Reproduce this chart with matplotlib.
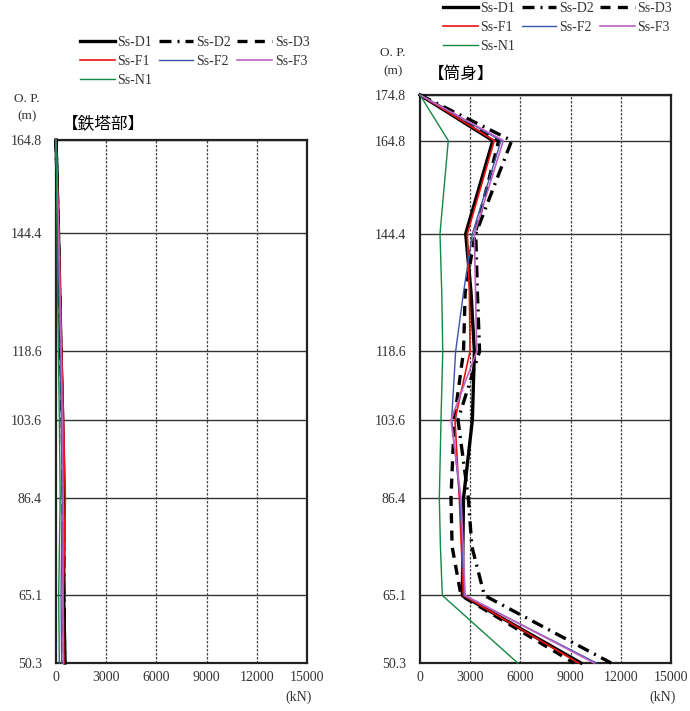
import matplotlib
matplotlib.use("Agg")
import matplotlib.pyplot as plt

plt.rcParams['font.family'] = ['Liberation Serif', 'Noto Sans CJK JP', 'DejaVu Sans']

# ---------------- data ----------------
series_names = ["Ss-D1", "Ss-D2", "Ss-D3", "Ss-F1", "Ss-F2", "Ss-F3", "Ss-N1"]

# Tower part (鉄塔部)
elev_tower = [164.8, 144.4, 118.6, 103.6, 86.4, 65.1, 50.3]
tower_D1 = [0, 150, 300, 400, 480, 460, 540]
tower_D2 = [0, 140, 290, 380, 440, 470, 520]
tower_D3 = [0, 130, 280, 370, 430, 460, 500]
tower_F1 = [0, 170, 340, 450, 560, 430, 470]
tower_F2 = [0, 110, 260, 320, 370, 300, 340]
tower_F3 = [0, 160, 310, 380, 430, 410, 440]
tower_N1 = [0, 60, 140, 200, 250, 160, 200]

# Shaft (筒身)
elev_shaft = [174.8, 164.8, 144.4, 131.5, 118.6, 103.6, 86.4, 75.8, 65.1, 50.3]
shaft_D1 = [0, 4350, 2730, 3050, 3250, 3130, 2600, 2560, 2530, 9620]
shaft_D2 = [0, 5480, 3330, 3430, 3560, 2270, 2890, 3100, 3850, 11420]
shaft_D3 = [0, 4700, 3300, 2700, 2600, 2050, 1850, 1920, 2450, 9200]
shaft_F1 = [0, 4440, 2830, 2950, 2990, 2090, 2350, 2470, 2590, 9480]
shaft_F2 = [0, 4840, 3130, 2600, 2130, 1890, 2390, 2520, 2650, 10550]
shaft_F3 = [0, 4980, 3250, 3320, 3390, 1850, 2450, 2580, 2700, 10400]
shaft_N1 = [0, 1690, 1195, 1300, 1360, 1255, 1155, 1220, 1335, 5840]

ticks_tower = [164.8, 144.4, 118.6, 103.6, 86.4, 65.1, 50.3]
ticks_shaft = [174.8, 164.8, 144.4, 118.6, 103.6, 86.4, 65.1, 50.3]
x_ticks = [0, 3000, 6000, 9000, 12000, 15000]

# ---------------- styles ----------------
styles = {
    "Ss-D1": dict(color="black", lw=2.4, ls="-"),
    "Ss-D2": dict(color="black", lw=2.4, ls=(0, (3.6, 1.8, 0.6, 1.8))),
    "Ss-D3": dict(color="black", lw=2.4, ls=(0, (3.0, 2.2))),
    "Ss-F1": dict(color="#ee1111", lw=1.2, ls="-"),
    "Ss-F2": dict(color="#3a55a8", lw=1.0, ls="-"),
    "Ss-F3": dict(color="#c060c0", lw=1.2, ls="-"),
    "Ss-N1": dict(color="#118844", lw=1.0, ls="-"),
}

W, H = 690, 711
fig = plt.figure(figsize=(W / 100, H / 100), dpi=100)


def px_axes(x0, x1, y0, y1):
    return fig.add_axes([x0 / W, 1 - y1 / H, (x1 - x0) / W, (y1 - y0) / H])


ax1 = px_axes(56, 307, 140, 663)
ax2 = px_axes(420, 671, 95, 663)

tower = [tower_D1, tower_D2, tower_D3, tower_F1, tower_F2, tower_F3, tower_N1]
shaft = [shaft_D1, shaft_D2, shaft_D3, shaft_F1, shaft_F2, shaft_F3, shaft_N1]


def setup(ax, yticks, ytop):
    ax.set_xlim(0, 15000)
    ax.set_ylim(50.3, ytop)
    ax.set_xticks(x_ticks)
    ax.set_xticklabels([str(v) for v in x_ticks])
    ax.set_yticks(yticks)
    ax.set_yticklabels([f"{v:.1f}" for v in yticks])
    ax.tick_params(length=0, labelsize=10, colors="#333333")
    ax.tick_params(axis="y", pad=10)
    ax.tick_params(axis="x", pad=6)
    for v in yticks:
        ax.axhline(v, color="#333333", lw=1.0, zorder=1)
    for v in x_ticks[1:-1]:
        ax.axvline(v, color="#444444", lw=0.9, ls=(0, (2, 1.2)), zorder=1)
    for s in ax.spines.values():
        s.set_color("#222222")
        s.set_linewidth(1.6)
    ax.annotate("(kN)", xy=(1, 0), xycoords="axes fraction", xytext=(-6, -25),
                textcoords="offset points", ha="center", va="center",
                fontsize=10, color="#333333")


setup(ax1, ticks_tower, 164.8)
setup(ax2, ticks_shaft, 174.8)

handles = {}
for name, xs in zip(series_names, tower):
    st = styles[name]
    ax1.plot(xs, elev_tower, color=st["color"], lw=st["lw"], ls=st["ls"], zorder=3,
             clip_on=False)
for name, xs in zip(series_names, shaft):
    st = styles[name]
    (ln,) = ax2.plot(xs, elev_shaft, color=st["color"], lw=st["lw"], ls=st["ls"], zorder=3,
                     clip_on=False)
    handles[name] = ln

# Titles & axis labels
fig.text(62 / W, 1 - 124 / H, "【鉄塔部】", fontsize=12, va="center", ha="left",
         family=['Noto Sans CJK JP'])
fig.text(428 / W, 1 - 74 / H, "【筒身】", fontsize=12, va="center", ha="left",
         family=['Noto Sans CJK JP'])
for x, y in [(27, 99), (393, 53)]:
    fig.text(x / W, 1 - y / H, "O. P.", fontsize=9.5, ha="center", va="center", color="#333333")
for x, y in [(27, 116), (393, 71)]:
    fig.text(x / W, 1 - y / H, "(m)", fontsize=9.5, ha="center", va="center", color="#333333")

# Legends: order so that column-major fill gives row-wise D1 D2 D3 / F1 F2 F3 / N1
order = ["Ss-D1", "Ss-F1", "Ss-N1", "Ss-D2", "Ss-F2", "Ss-D3", "Ss-F3"]
for (x, y) in [(80, 36), (443, 2)]:
    fig.legend([handles[n] for n in order], order, loc="upper left",
               bbox_to_anchor=(x / W, 1 - y / H), ncol=3, frameon=False,
               fontsize=10, handlelength=2.5, handletextpad=0.2,
               columnspacing=0.45, labelspacing=0.43, borderpad=0, borderaxespad=0,
               labelcolor="#333333")

fig.savefig("out.png", dpi=100)
